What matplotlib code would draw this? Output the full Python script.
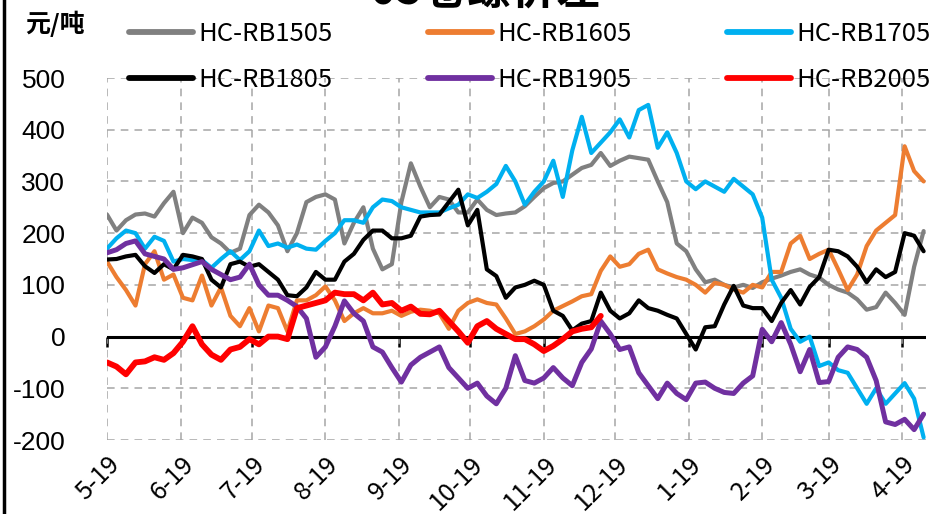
import matplotlib
matplotlib.use("Agg")
import matplotlib.pyplot as plt
from matplotlib.lines import Line2D

# x axis: days counted from 5-19, one sample every 4 days
month_ticks = [0, 31, 61, 92, 123, 153, 184, 214, 245, 276, 304, 335]
month_labels = ["5-19", "6-19", "7-19", "8-19", "9-19", "10-19",
                "11-19", "12-19", "1-19", "2-19", "3-19", "4-19"]
y_ticks = [-200, -100, 0, 100, 200, 300, 400, 500]
y_labels = ["-200", "-100", "0", "100", "200", "300", "400", "500"]

days = list(range(0, 345, 4))

hc_rb1505 = [236, 205, 225, 236, 238, 232, 258, 280, 200, 230, 220, 192, 180, 162, 170, 235, 255, 240,
             215, 165, 200, 260, 270, 275, 265, 180, 220, 250, 170, 130, 140, 260, 335, 290, 250,
             270, 265, 240, 240, 265, 245, 235, 238, 240, 252, 270, 287, 297, 300, 313, 326, 332,
             355, 330, 340, 348, 345, 342, 300, 260, 180, 165, 130, 105, 110, 100, 95, 100,
             94, 105, 112, 118, 125, 130, 120, 114, 100, 91, 85, 72, 52, 57, 85, 65, 42, 135, 204]
hc_rb1605 = [145, 115, 90, 60, 140, 165, 110, 120, 75, 70, 118, 60, 95, 40, 20, 55, 10, 60,
             55, 10, 70, 70, 80, 97, 70, 30, 45, 55, 45, 45, 50, 40, 48, 52, 50,
             45, 15, 50, 65, 72, 65, 62, 35, 5, 10, 20, 33, 50, 59, 68, 78, 82,
             127, 155, 135, 140, 160, 168, 130, 122, 115, 110, 100, 85, 104, 100, 91, 85,
             100, 95, 125, 125, 180, 195, 150, 160, 168, 130, 90, 120, 175, 205, 220, 235, 368, 320, 300]
hc_rb1705 = [170, 190, 205, 200, 170, 193, 185, 145, 150, 148, 148, 133, 150, 165, 148, 165, 205, 175,
             180, 172, 178, 170, 168, 185, 200, 225, 225, 220, 250, 265, 262, 250, 245, 240, 240,
             240, 248, 255, 275, 268, 280, 295, 330, 300, 255, 280, 300, 340, 270, 360, 425, 355,
             375, 395, 420, 385, 438, 448, 365, 395, 355, 300, 285, 300, 290, 280, 305, 290,
             275, 230, 110, 75, 15, -10, 0, -57, -50, -65, -70, -100, -130, -100, -130, -110, -90, -120, -195]
hc_rb1805 = [149, 150, 155, 158, 136, 123, 140, 130, 158, 155, 150, 110, 95, 140, 145, 135, 140, 125,
             110, 80, 78, 95, 125, 110, 110, 145, 160, 187, 205, 205, 190, 190, 195, 232, 235,
             236, 260, 284, 215, 245, 130, 117, 75, 95, 100, 108, 100, 50, 40, 12, 25, 30,
             85, 50, 35, 45, 70, 55, 50, 42, 35, 5, -25, 18, 20, 62, 98, 60,
             55, 55, 30, 65, 90, 62, 96, 115, 168, 165, 155, 135, 105, 130, 115, 125, 200, 195, 165]
hc_rb1905 = [162, 168, 180, 185, 160, 155, 150, 130, 133, 139, 145, 130, 120, 110, 115, 140, 100, 80,
             80, 70, 58, 35, -40, -20, 20, 69, 45, 30, -20, -30, -60, -88, -55, -40, -30,
             -20, -60, -80, -100, -90, -115, -130, -100, -37, -85, -90, -80, -60, -80, -95, -50, -24,
             30, 5, -25, -20, -70, -95, -120, -90, -110, -122, -90, -88, -100, -108, -110, -90,
             -76, 14, -10, 27, -15, -68, -25, -89, -87, -40, -20, -25, -40, -85, -165, -170, -160, -180, -150]
hc_rb2005 = [-50, -58, -73, -50, -48, -40, -45, -32, -10, 20, -15, -35, -45, -25, -20, -5, -15, 0,
             0, -5, 55, 60, 65, 70, 85, 82, 82, 70, 85, 62, 65, 50, 58, 44, 43,
             50, 30, 10, -12, 20, 30, 15, 5, -5, -5, -15, -28, -18, -5, 10, 15, 18, 40]

series = [
    ("HC-RB1505", hc_rb1505, "#808080", 3.0),
    ("HC-RB1605", hc_rb1605, "#ED7D31", 3.0),
    ("HC-RB1705", hc_rb1705, "#00B0F0", 3.0),
    ("HC-RB1805", hc_rb1805, "#000000", 3.0),
    ("HC-RB1905", hc_rb1905, "#7030A0", 3.6),
    ("HC-RB2005", hc_rb2005, "#FF0000", 4.2),
]

cjk = ["Noto Sans CJK SC", "DejaVu Sans"]

fig = plt.figure(figsize=(9.32, 5.14), dpi=100)
ax = fig.add_axes([107 / 932, 1 - 440 / 514, 819 / 932, 362 / 514])

lines = []
for name, vals, color, lw in series:
    ln, = ax.plot(days[:len(vals)], vals, color=color, lw=lw, label=name,
                  solid_joinstyle="round", solid_capstyle="round")
    lines.append(ln)

ax.set_xlim(0, 345)
ax.set_ylim(-200, 500)
ax.set_yticks(y_ticks)
ax.set_yticklabels(y_labels, fontsize=19, family="Liberation Sans")
ax.set_xticks(month_ticks)
ax.set_xticklabels(month_labels, fontsize=18, family=cjk, rotation=45,
                   ha="right", va="top", rotation_mode="anchor")
ax.tick_params(axis="y", length=0, pad=30)
ax.tick_params(axis="x", length=0, pad=8)
for s in ax.spines.values():
    s.set_visible(False)

ax.grid(True, color="#A6A6A6", lw=1.1, ls=(0, (5, 4)))
ax.set_axisbelow(True)

# zero line with month ticks, like the category axis in the original
ax.axhline(0, color="black", lw=2.2, zorder=1.5)
sec = ax.secondary_xaxis(200 / 700)
sec.set_xticks(month_ticks)
sec.set_xticklabels([])
sec.tick_params(direction="out", length=7, width=1.8, color="black")
sec.spines["bottom"].set_visible(False)

# legend filled column by column -> reorder so rows read 1505,1605,1705 / 1805,1905,2005
order = [0, 3, 1, 4, 2, 5]
leg = fig.legend([lines[i] for i in order], [series[i][0] for i in order],
                 loc="upper left", bbox_to_anchor=(129 / 932, 1 - 21 / 514), ncol=3,
                 frameon=False, prop={"family": cjk, "size": 18.5},
                 borderpad=0, borderaxespad=0,
                 handlelength=2.5, handletextpad=0.2, columnspacing=3.7, labelspacing=0.78)
for h in leg.get_lines():
    h.set_linewidth(4.2)

fig.text(25 / 932, 1 - 32 / 514, "元/吨", fontsize=18, family=cjk, fontweight="bold")
fig.text(485 / 932, 1 - 15 / 514, "05卷螺价差", fontsize=32, family=cjk,
         fontweight="bold", ha="center", va="bottom")
fig.add_artist(Line2D([4 / 932, 4 / 932], [0, 1], color="black", lw=2.5))

fig.savefig("out.png", dpi=100)
